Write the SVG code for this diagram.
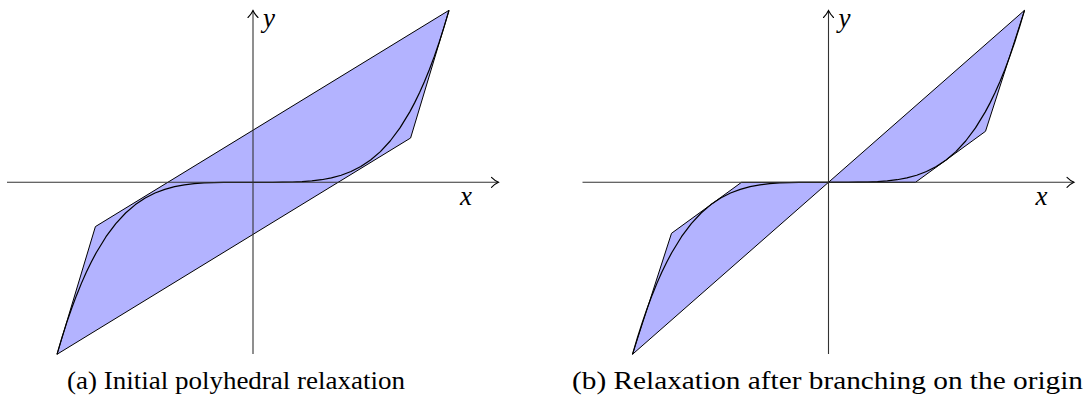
<svg xmlns="http://www.w3.org/2000/svg" width="1091" height="397" viewBox="0 0 1091 397">
<style>
.region{fill:#b3b3ff;stroke:#000;stroke-width:1;stroke-linejoin:round}
.curve{fill:none;stroke:#000;stroke-width:1.2;stroke-linejoin:round}
.axis{fill:none;stroke:#333;stroke-width:1.1;marker-end:url(#arr)}
.lbl{font-style:italic;font-size:27px;fill:#000}
.cap{font-size:25px;fill:#000}
</style>
<defs>
<marker id="arr" markerUnits="userSpaceOnUse" viewBox="-8 -6 9 12" refX="0" refY="0" markerWidth="9" markerHeight="12" orient="auto" overflow="visible">
<path d="M -7,-5 C -4.5,-2.5 -1.5,-0.7 0,0 C -1.5,0.7 -4.5,2.5 -7,5" fill="none" stroke="#000" stroke-width="1.1" stroke-linecap="round"/>
</marker>
<polyline id="cubic" class="curve" points="-196,172 -191.1,155.43 -186.2,140.1 -181.3,125.9 -176.4,112.85 -171.5,100.83 -166.6,89.79 -161.7,79.67 -156.8,70.45 -147,54.42 -137.2,41.3 -127.4,30.7 -117.6,22.29 -107.8,15.74 -98,10.75 -88.2,7.05 -78.4,4.4 -68.6,2.58 -58.8,1.39 -49,0.67 -39.2,0.28 -29.4,0.09 -19.6,0.02 0,0 19.6,-0.02 29.4,-0.09 39.2,-0.28 49,-0.67 58.8,-1.39 68.6,-2.58 78.4,-4.4 88.2,-7.05 98,-10.75 107.8,-15.74 117.6,-22.29 127.4,-30.7 137.2,-41.3 147,-54.42 156.8,-70.45 161.7,-79.67 166.6,-89.79 171.5,-100.83 176.4,-112.85 181.3,-125.9 186.2,-140.1 191.1,-155.43 196,-172"/>
</defs>

<g id="plot-a">
<g id="relaxation-a" transform="translate(253,182.3)">
<polygon class="region" points="-196,172 -157.6,44.3 196,-172 157.6,-44.3"/>
<use href="#cubic"/>
</g>
<g id="axes-a">
<line class="axis" x1="7" y1="182.3" x2="498.5" y2="182.3"/>
<line class="axis" x1="253" y1="354" x2="253" y2="10.5"/>
<text class="lbl" font-family="'Liberation Serif', 'Times New Roman', serif" x="263" y="27">y</text>
<text class="lbl" font-family="'Liberation Serif', 'Times New Roman', serif" x="460" y="205">x</text>
</g>
<text id="caption-a" class="cap" font-family="'Liberation Serif', 'Times New Roman', serif" x="236" y="389" text-anchor="middle" textLength="338" lengthAdjust="spacingAndGlyphs">(a) Initial polyhedral relaxation</text>
</g>

<g id="plot-b">
<g id="relaxation-b" transform="translate(828.5,182.3)">
<polygon class="region" points="-196,172 -157,51 -87,0 0,0"/>
<polygon class="region" points="0,0 87,0 157,-51 196,-172"/>
<use href="#cubic"/>
</g>
<g id="axes-b">
<line class="axis" x1="582.5" y1="182.3" x2="1074" y2="182.3"/>
<line class="axis" x1="828.5" y1="354" x2="828.5" y2="10.5"/>
<text class="lbl" font-family="'Liberation Serif', 'Times New Roman', serif" x="838.5" y="27">y</text>
<text class="lbl" font-family="'Liberation Serif', 'Times New Roman', serif" x="1035.5" y="205">x</text>
</g>
<text id="caption-b" class="cap" font-family="'Liberation Serif', 'Times New Roman', serif" x="827.5" y="389" text-anchor="middle" textLength="511" lengthAdjust="spacingAndGlyphs">(b) Relaxation after branching on the origin</text>
</g>
</svg>
